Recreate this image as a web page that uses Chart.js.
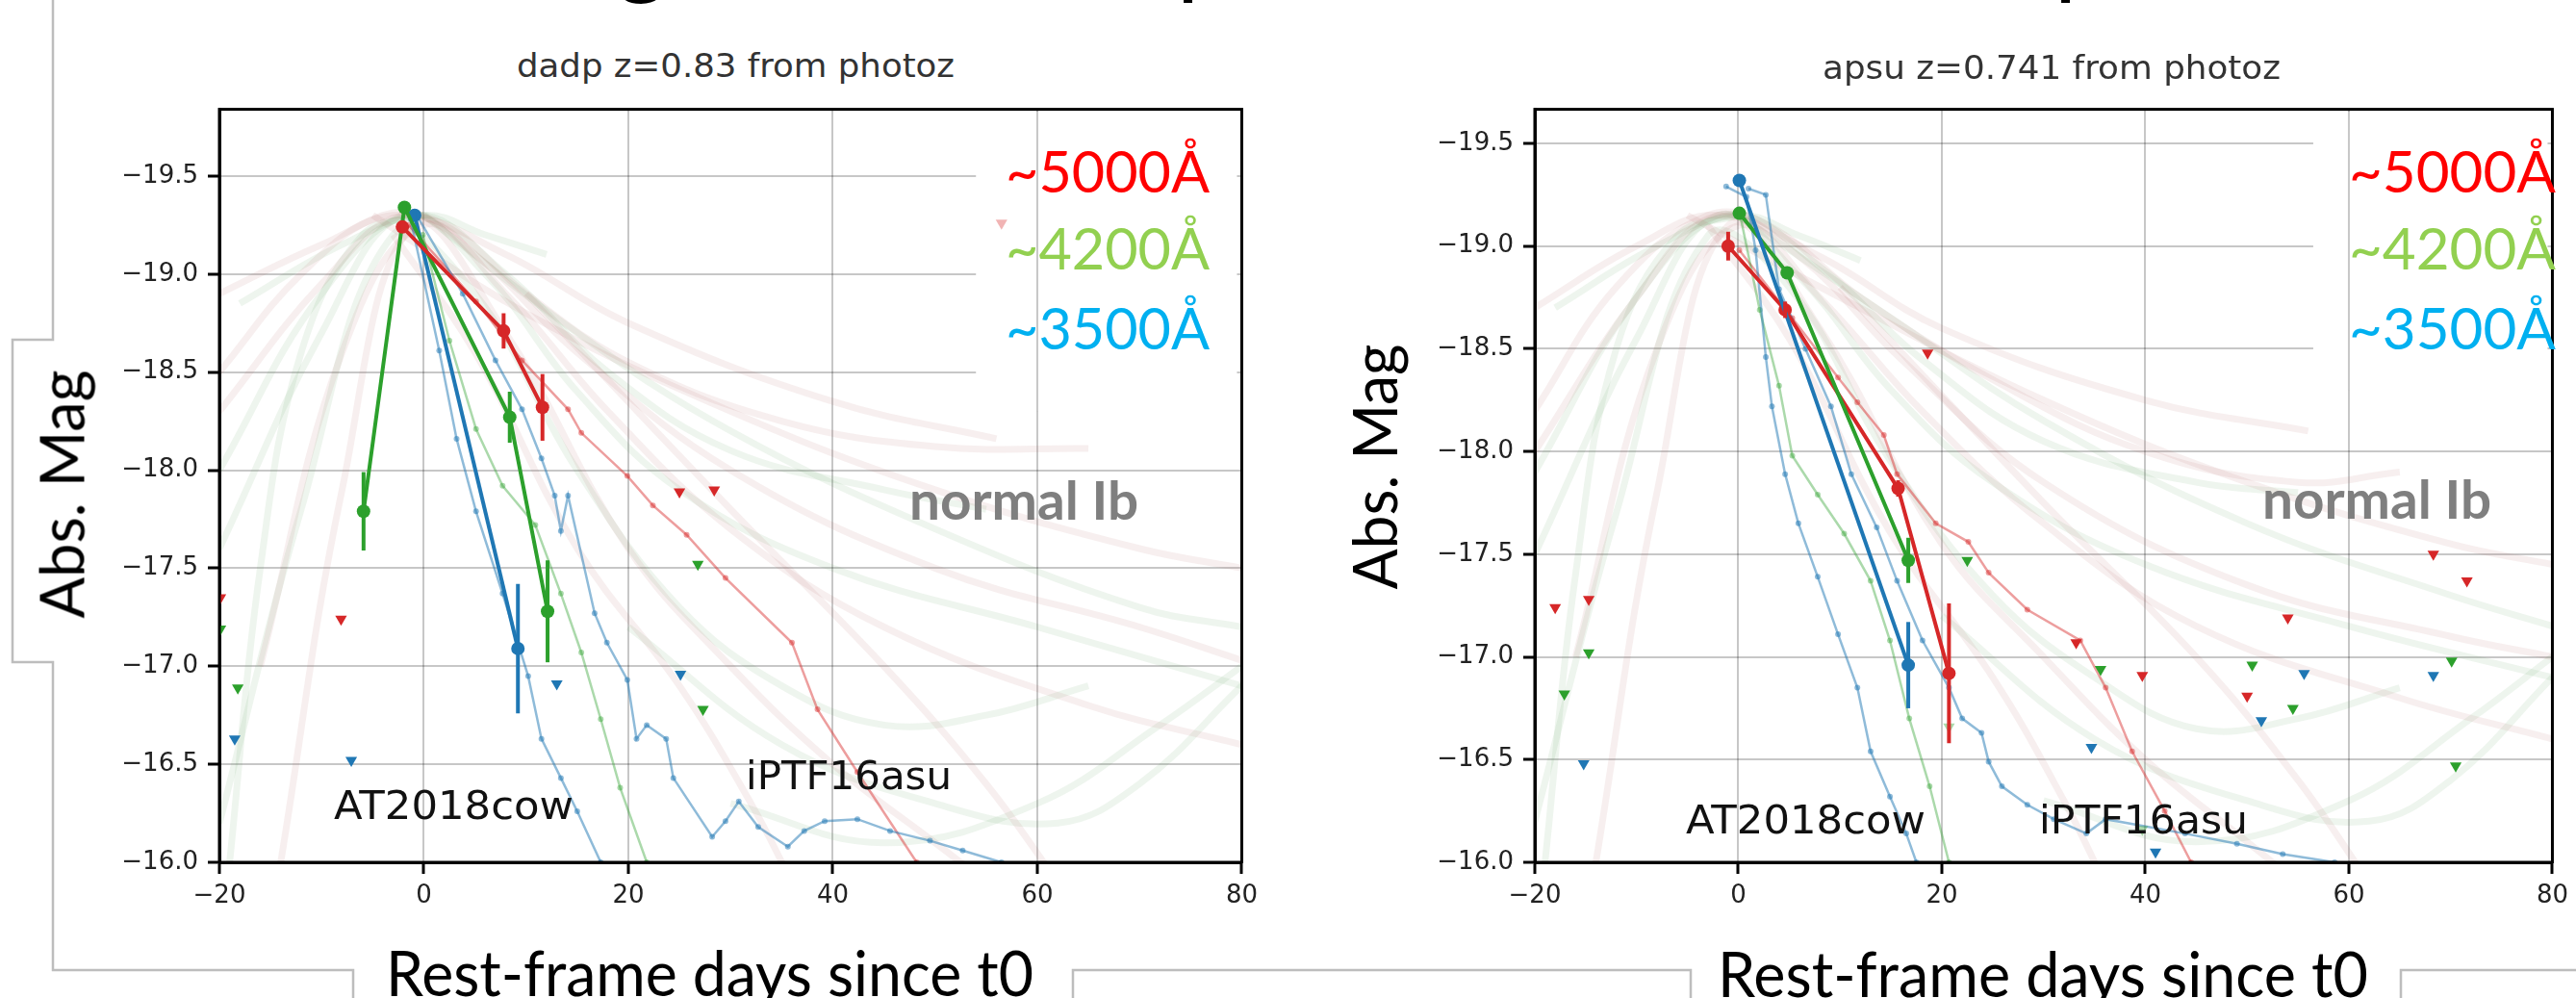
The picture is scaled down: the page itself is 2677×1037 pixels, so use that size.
<!DOCTYPE html>
<html>
<head>
<meta charset="utf-8">
<script src="https://cdn.jsdelivr.net/npm/chart.js@4.4.1/dist/chart.umd.min.js"></script>
<style>
html, body { margin: 0; padding: 0; background: #fff; width: 2677px; height: 1037px; overflow: hidden; position: relative; }
.panel { position: absolute; }
.lbl { position: absolute; white-space: nowrap; transform-origin: 0 0; }
svg.frame { position: absolute; left: 0; top: 0; }
</style>
</head>
<body>
<svg class="frame" width="2677" height="1037">
  <g fill="none" stroke="#bdbdbd" stroke-width="2.5">
    <polyline points="55,0 55,353 13,353 13,688 55,688 55,1008 367,1008 367,1037"/>
    <polyline points="1115,1037 1115,1008 1757,1008 1757,1037"/>
    <polyline points="2495,1037 2495,1008 2677,1008"/>
  </g>
</svg>
<div class="panel" style="left:100px;top:88px;width:1215px;height:870px"><canvas id="cL" width="1215" height="870"></canvas></div>
<div class="panel" style="left:1467px;top:88px;width:1210px;height:870px"><canvas id="cR" width="1210" height="870"></canvas></div>
<script>
/* === Ib light-curve comparison, two panels === */

// ── Axes ──
const xTicks = [-20, 0, 20, 40, 60, 80];
const yTicks = [-19.5, -19.0, -18.5, -18.0, -17.5, -17.0, -16.5, -16.0];

// ── dadp (left) ──
const dadpRedDays = [-2.1, 7.8, 11.6];
const dadpRedMags = [-19.24, -18.71, -18.32];
const dadpRedErr = [0.03, 0.09, 0.17];
const dadpGreenDays = [-5.9, -1.9, 8.4, 12.1];
const dadpGreenMags = [-17.79, -19.34, -18.27, -17.28];
const dadpGreenErr = [0.2, 0.03, 0.13, 0.26];
const dadpBlueDays = [-0.9, 9.2];
const dadpBlueMags = [-19.30, -17.09];
const dadpBlueErr = [0.03, 0.33];

const dadpRedLimDays = [-19.9, -8.1, 25.0, 28.4];
const dadpRedLimMags = [-17.35, -17.24, -17.89, -17.90];
const dadpFaintLimDays = [56.5];
const dadpFaintLimMags = [-19.26];
const dadpGreenLimDays = [-19.9, -18.2, 26.8, 27.3];
const dadpGreenLimMags = [-17.19, -16.89, -17.52, -16.78];
const dadpBlueLimDays = [-18.5, -7.1, 13.0, 25.1];
const dadpBlueLimMags = [-16.63, -16.52, -16.91, -16.96];

const dadpCowBlue = [[-1.3,-19.28],[1.5,-18.61],[3.2,-18.16],[5.1,-17.79],[7.7,-17.37],[10.2,-16.95],[11.5,-16.63],[13.4,-16.43],[15.0,-16.26],[17.3,-16.0],[18.5,-15.85]];
const dadpAsuBlue = [[-0.7,-19.3],[3.8,-18.9],[7.0,-18.56],[9.6,-18.31],[11.5,-18.06],[12.8,-17.87],[13.4,-17.69],[14.1,-17.87],[16.7,-17.27],[17.9,-17.12],[19.9,-16.93],[20.8,-16.63],[21.8,-16.7],[23.7,-16.63],[24.4,-16.43],[28.2,-16.13],[29.5,-16.21],[30.8,-16.31],[32.7,-16.18],[35.6,-16.08],[37.2,-16.16],[39.2,-16.21],[42.4,-16.22],[45.6,-16.16],[49.5,-16.11],[52.7,-16.06],[56.5,-16.0],[60,-15.95]];
const dadpCowGreen = [[-0.1,-19.2],[2.5,-18.66],[5.1,-18.21],[7.7,-17.92],[10.9,-17.72],[13.4,-17.37],[15.4,-17.07],[17.3,-16.73],[19.2,-16.38],[21.8,-16.0],[23,-15.8]];
const dadpAsuRed = [[-1.5,-19.25],[5.1,-18.86],[9.6,-18.56],[14.1,-18.31],[15.4,-18.19],[19.9,-17.97],[22.4,-17.82],[25.7,-17.67],[29.5,-17.45],[36.0,-17.12],[38.5,-16.78],[42.4,-16.46],[48.2,-16.0],[50,-15.85]];

// normal Ib templates (faint)
const dadpTplRed = [
  [[-20,-18.5],[-12,-19.0],[-4,-19.3],[2,-19.25],[10,-18.9],[20,-18.55],[35,-18.25],[50,-18.12],[65,-18.11]],
  [[-20,-18.3],[-10,-18.95],[-2,-19.3],[5,-19.1],[15,-18.6],[30,-18.0],[50,-17.5],[70,-17.2],[80,-17.03]],
  [[-16,-17.0],[-8,-18.6],[0,-19.25],[8,-18.9],[18,-18.3],[30,-17.7],[45,-17.2],[65,-16.8],[80,-16.6]],
  [[-14,-16.0],[-8,-17.9],[-1,-19.25],[8,-18.7],[20,-17.6],[30,-17.0],[40,-16.5],[50,-16.1],[55,-15.9]],
  [[-3,-19.2],[5,-18.6],[15,-17.6],[25,-16.9],[32,-16.3],[36,-15.9]],
  [[-5,-19.3],[10,-18.8],[30,-18.3],[50,-17.9],[70,-17.6],[80,-17.5]],
  [[10,-18.9],[30,-17.8],[45,-17.0],[55,-16.4],[62,-15.9]],
  [[-20,-18.9],[-10,-19.15],[-2,-19.3],[8,-19.1],[20,-18.75],[40,-18.35],[56,-18.16]],
];
const dadpTplGreen = [
  [[-18,-18.85],[-8,-19.15],[0,-19.3],[6,-19.2],[12,-19.1]],
  [[-20,-17.6],[-10,-18.7],[-2,-19.3],[6,-19.0],[15,-18.4],[25,-17.9],[40,-17.5],[60,-17.2],[80,-16.9]],
  [[-20,-16.2],[-12,-17.8],[-3,-19.2],[5,-18.9],[15,-18.0],[25,-17.3],[35,-16.9],[45,-16.7],[55,-16.75],[65,-16.9]],
  [[-20,-18.0],[-10,-18.9],[-1,-19.3],[8,-19.0],[18,-18.5],[30,-18.1],[45,-17.9],[55,-17.8]],
  [[20,-17.2],[35,-16.6],[50,-16.3],[62,-16.2],[70,-16.4],[80,-16.9]],
  [[0,-19.3],[15,-18.7],[30,-18.2],[50,-17.7],[70,-17.3],[80,-17.2]],
  [[-19,-16.0],[-16,-17.5],[-12,-18.6],[-6,-19.2],[0,-19.3]],
  [[30,-16.3],[45,-16.1],[60,-16.3],[72,-16.7],[80,-17.0]],
];

// ── apsu (right) ──
const apsuRedDays = [-1.0, 4.6, 15.7, 20.7];
const apsuRedMags = [-19.0, -18.69, -17.82, -16.92];
const apsuRedErr = [0.07, 0.04, 0.04, 0.34];
const apsuGreenDays = [0.1, 4.8, 16.7];
const apsuGreenMags = [-19.16, -18.87, -17.47];
const apsuGreenErr = [0.03, 0.03, 0.11];
const apsuBlueDays = [0.1, 16.7];
const apsuBlueMags = [-19.32, -16.96];
const apsuBlueErr = [0.03, 0.21];

const apsuRedLimDays = [-18.0, -14.7, 18.6, 33.2, 39.7, 50.0, 54.0, 68.3, 71.6];
const apsuRedLimMags = [-17.24, -17.28, -18.48, -17.07, -16.91, -16.81, -17.19, -17.50, -17.37];
const apsuGreenLimDays = [-14.7, -17.1, 22.5, 35.6, 50.5, 54.5, 70.1, 70.5];
const apsuGreenLimMags = [-17.02, -16.82, -17.47, -16.94, -16.96, -16.75, -16.98, -16.47];
const apsuFaintLimDays = [20.7, 39.7];
const apsuFaintLimMags = [-16.66, -16.16];
const apsuBlueLimDays = [-15.2, 34.7, 51.4, 55.6, 68.3, 41.0];
const apsuBlueLimMags = [-16.48, -16.56, -16.69, -16.92, -16.91, -16.05];

const apsuCowBlue = [[-1.2,-19.29],[0.8,-19.24],[1.7,-18.98],[2.7,-18.46],[3.3,-18.22],[4.6,-17.89],[5.9,-17.65],[7.8,-17.39],[9.8,-17.11],[11.7,-16.85],[13.0,-16.54],[14.9,-16.32],[16.5,-16.14],[17.5,-16.0],[18.5,-15.85]];
const apsuAsuBlue = [[1.0,-19.28],[2.7,-19.25],[4.0,-18.79],[6.6,-18.5],[9.1,-18.22],[11.1,-17.89],[13.6,-17.63],[15.6,-17.37],[18.1,-17.08],[20.7,-16.85],[22.0,-16.7],[23.9,-16.63],[24.6,-16.49],[25.9,-16.37],[28.4,-16.28],[31.0,-16.21],[34.2,-16.14],[36.1,-16.21],[43.9,-16.14],[49.0,-16.09],[53.5,-16.04],[58.6,-16.0],[62,-15.95]];
const apsuCowGreen = [[0.1,-19.17],[2.1,-18.69],[4.0,-18.32],[5.3,-17.98],[7.8,-17.79],[10.4,-17.6],[13.0,-17.37],[14.9,-17.08],[16.8,-16.70],[18.8,-16.37],[20.7,-16.0],[21.5,-15.85]];
const apsuAsuRed = [[0.1,-18.98],[5.3,-18.65],[9.8,-18.36],[11.7,-18.24],[14.3,-18.08],[15.6,-17.89],[19.4,-17.65],[22.6,-17.56],[24.6,-17.41],[28.4,-17.23],[33.6,-17.08],[36.1,-16.85],[38.7,-16.54],[41.9,-16.25],[44.5,-16.0],[46,-15.85]];

const apsuTplRed = [
  [[-20,-18.2],[-12,-18.8],[-3,-19.15],[3,-19.1],[12,-18.75],[25,-18.35],[40,-18.0],[55,-17.85],[65,-17.9]],
  [[-20,-18.0],[-10,-18.75],[-2,-19.15],[6,-18.95],[16,-18.45],[30,-17.85],[50,-17.35],[70,-17.1],[80,-17.0]],
  [[-16,-17.0],[-8,-18.5],[0,-19.1],[8,-18.75],[18,-18.2],[30,-17.65],[45,-17.15],[65,-16.8],[80,-16.6]],
  [[-14,-16.0],[-8,-17.8],[-1,-19.1],[8,-18.6],[20,-17.55],[30,-17.0],[40,-16.5],[50,-16.1],[55,-15.9]],
  [[-3,-19.1],[5,-18.55],[15,-17.6],[25,-16.9],[32,-16.3],[36,-15.9]],
  [[-5,-19.15],[10,-18.75],[30,-18.25],[50,-17.85],[70,-17.55],[80,-17.45]],
  [[10,-18.8],[30,-17.75],[45,-17.0],[55,-16.4],[62,-15.9]],
  [[-20,-18.7],[-10,-19.0],[-2,-19.15],[8,-18.95],[20,-18.6],[40,-18.25],[56,-18.1]],
];
const apsuTplGreen = [
  [[-18,-18.7],[-8,-19.0],[0,-19.15],[6,-19.05],[12,-18.93]],
  [[-20,-17.5],[-10,-18.55],[-2,-19.15],[6,-18.85],[15,-18.3],[25,-17.85],[40,-17.45],[60,-17.15],[80,-16.9]],
  [[-20,-16.2],[-12,-17.7],[-3,-19.05],[5,-18.8],[15,-17.95],[25,-17.3],[35,-16.9],[45,-16.65],[55,-16.7],[65,-16.85]],
  [[-20,-17.9],[-10,-18.75],[-1,-19.15],[8,-18.9],[18,-18.45],[30,-18.05],[45,-17.85],[55,-17.8]],
  [[20,-17.2],[35,-16.6],[50,-16.3],[62,-16.2],[70,-16.4],[80,-16.9]],
  [[0,-19.15],[15,-18.65],[30,-18.15],[50,-17.65],[70,-17.3],[80,-17.15]],
  [[-19,-16.0],[-16,-17.4],[-12,-18.5],[-6,-19.05],[0,-19.15]],
  [[30,-16.3],[45,-16.1],[60,-16.3],[72,-16.7],[80,-17.0]],
];

// ── Style ──
const RED = '#d62728', GREEN = '#2ca02c', BLUE = '#1f77b4';
const GRID = 'rgba(0,0,0,0.22)';
const TPL_RED = 'rgba(165,80,80,0.09)', TPL_GREEN = 'rgba(70,140,70,0.09)';

const zip = (xs, ys) => xs.map((x, i) => ({ x, y: ys[i] }));
const pairs = arr => arr.map(([x, y]) => ({ x, y }));
const fmtNum = (v, d) => (v < 0 ? '\u2212' : '') + Math.abs(v).toFixed(d);

function tplSet(list, color) {
  return list.map(t => ({ data: pairs(t), showLine: true, borderColor: color, borderWidth: 7,
    pointRadius: 0, tension: 0.4, order: 6, clip: 0 }));
}
function thin(arr, color) {
  return { data: pairs(arr), showLine: true, borderColor: color, borderWidth: 2.5, pointRadius: 3,
    pointBackgroundColor: color, pointBorderWidth: 0, tension: 0, order: 4, clip: 0 };
}
function limits(xs, ys, color) {
  return { data: zip(xs, ys), showLine: false, pointStyle: 'triangle', rotation: 180, pointRadius: 7,
    backgroundColor: color, borderColor: color, borderWidth: 0, order: 2, clip: 0 };
}
function main(xs, ys, errs, color) {
  return { data: zip(xs, ys), errs, showLine: true, borderColor: color, borderWidth: 4, pointRadius: 7,
    backgroundColor: color, pointBorderWidth: 0, tension: 0, order: 1, clip: 0 };
}

// white box behind the wavelength labels, error bars and the axes frame
const panelDeco = {
  id: 'panelDeco',
  beforeDatasetsDraw(chart, args, opts) {
    const { ctx, chartArea: a, scales: { x, y } } = chart;
    const bx = x.getPixelForValue(opts.boxFrom[0]);
    const by = y.getPixelForValue(opts.boxFrom[1]);
    ctx.save();
    ctx.fillStyle = '#fff';
    ctx.fillRect(bx, a.top + 2, a.right - 5 - bx, by - a.top - 2);
    const gx = x.getPixelForValue(60);
    ctx.strokeStyle = GRID; ctx.lineWidth = 2;
    ctx.beginPath(); ctx.moveTo(gx, a.top); ctx.lineTo(gx, by); ctx.stroke();
    ctx.restore();
  },
  afterDatasetsDraw(chart) {
    const { ctx, chartArea: a, scales: { x, y } } = chart;
    ctx.save();
    chart.data.datasets.forEach(ds => {
      if (!ds.errs) return;
      ctx.strokeStyle = ds.borderColor; ctx.lineWidth = 4;
      ds.data.forEach((p, i) => {
        const px = x.getPixelForValue(p.x);
        ctx.beginPath();
        ctx.moveTo(px, y.getPixelForValue(p.y - ds.errs[i]));
        ctx.lineTo(px, y.getPixelForValue(p.y + ds.errs[i]));
        ctx.stroke();
      });
    });
    ctx.strokeStyle = '#000'; ctx.lineWidth = 3;
    ctx.strokeRect(a.left, a.top, a.right - a.left, a.bottom - a.top);
    ctx.restore();
  }
};

function makePanel(id, yTop, padTop, padRight, boxFrom, datasets) {
  const tickFont = { family: 'DejaVu Sans', size: 26 };
  return new Chart(document.getElementById(id), {
    type: 'scatter',
    data: { datasets },
    options: {
      responsive: false, animation: false, events: [],
      layout: { padding: { top: padTop, right: padRight, left: 0, bottom: 0 } },
      plugins: { legend: { display: false }, tooltip: { enabled: false }, panelDeco: { boxFrom } },
      scales: {
        x: { type: 'linear', min: -20, max: 80,
          afterBuildTicks: s => { s.ticks = xTicks.map(v => ({ value: v })); },
          afterFit: s => { s.height = 62; },
          ticks: { color: '#222', font: tickFont, padding: 8, maxRotation: 0, callback: v => fmtNum(v, 0) },
          grid: { color: GRID, lineWidth: 2, tickColor: '#000', tickLength: 12, tickWidth: 3 },
          border: { color: '#000', width: 3 } },
        y: { type: 'linear', reverse: true, min: yTop, max: -16,
          afterBuildTicks: s => { s.ticks = yTicks.map(v => ({ value: v })); },
          afterFit: s => { s.width = 128; },
          ticks: { color: '#222', font: tickFont, padding: 10, callback: v => fmtNum(v, 1) },
          grid: { color: GRID, lineWidth: 2, tickColor: '#000', tickLength: 12, tickWidth: 3 },
          border: { color: '#000', width: 3 } }
      }
    },
    plugins: [panelDeco]
  });
}

makePanel('cL', -19.84, 10, 14, [54, -18.3], [
  ...tplSet(dadpTplRed, TPL_RED), ...tplSet(dadpTplGreen, TPL_GREEN),
  thin(dadpCowBlue, 'rgba(31,119,180,0.5)'), thin(dadpAsuBlue, 'rgba(31,119,180,0.5)'),
  thin(dadpCowGreen, 'rgba(44,160,44,0.4)'), thin(dadpAsuRed, 'rgba(214,39,40,0.45)'),
  limits(dadpRedLimDays, dadpRedLimMags, RED), limits(dadpFaintLimDays, dadpFaintLimMags, 'rgba(214,39,40,0.35)'),
  limits(dadpGreenLimDays, dadpGreenLimMags, GREEN), limits(dadpBlueLimDays, dadpBlueLimMags, BLUE),
  main(dadpRedDays, dadpRedMags, dadpRedErr, RED),
  main(dadpGreenDays, dadpGreenMags, dadpGreenErr, GREEN),
  main(dadpBlueDays, dadpBlueMags, dadpBlueErr, BLUE),
]);

makePanel('cR', -19.666, 12, 9, [56.5, -18.3], [
  ...tplSet(apsuTplRed, TPL_RED), ...tplSet(apsuTplGreen, TPL_GREEN),
  thin(apsuCowBlue, 'rgba(31,119,180,0.5)'), thin(apsuAsuBlue, 'rgba(31,119,180,0.5)'),
  thin(apsuCowGreen, 'rgba(44,160,44,0.4)'), thin(apsuAsuRed, 'rgba(214,39,40,0.45)'),
  limits(apsuRedLimDays, apsuRedLimMags, RED), limits(apsuGreenLimDays, apsuGreenLimMags, GREEN),
  limits(apsuFaintLimDays, apsuFaintLimMags, 'rgba(44,160,44,0.4)'), limits(apsuBlueLimDays, apsuBlueLimMags, BLUE),
  main(apsuBlueDays, apsuBlueMags, apsuBlueErr, BLUE),
  main(apsuGreenDays, apsuGreenMags, apsuGreenErr, GREEN),
  main(apsuRedDays, apsuRedMags, apsuRedErr, RED),
]);

// ── Text (x = left edge, b = baseline, w = fitted width) ──
const LEGEND_RED = '#ff0000', LEGEND_GREEN = '#92d050', LEGEND_BLUE = '#00b0f0';
const labels = [
  // descenders of the slide heading, which is cut off above the picture
  { t: 'g', x: 641, b: -14, size: 100, fam: 'Lato', col: '#000' },
  { t: 'p', x: 1223, b: -14, size: 100, fam: 'Lato', col: '#000' },
  { t: 'p', x: 2135, b: -14, size: 100, fam: 'Lato', col: '#000' },
  { t: 'dadp z=0.83 from photoz', x: 537, b: 80, size: 33, fam: 'DejaVu Sans', col: '#333', w: 455 },
  { t: 'apsu z=0.741 from photoz', x: 1894, b: 82, size: 33, fam: 'DejaVu Sans', col: '#333', w: 476 },
  { t: '~5000\u00c5', x: 1045, b: 200, size: 60, fam: 'Lato', col: LEGEND_RED, w: 212 },
  { t: '~4200\u00c5', x: 1045, b: 280, size: 60, fam: 'Lato', col: LEGEND_GREEN, w: 212 },
  { t: '~3500\u00c5', x: 1045, b: 363, size: 60, fam: 'Lato', col: LEGEND_BLUE, w: 212 },
  { t: '~5000\u00c5', x: 2441, b: 200, size: 60, fam: 'Lato', col: LEGEND_RED, w: 215 },
  { t: '~4200\u00c5', x: 2441, b: 280, size: 60, fam: 'Lato', col: LEGEND_GREEN, w: 215 },
  { t: '~3500\u00c5', x: 2441, b: 363, size: 60, fam: 'Lato', col: LEGEND_BLUE, w: 215 },
  { t: 'normal Ib', x: 945, b: 540, size: 56, fam: 'Lato', weight: 'bold', col: '#7f7f7f', w: 238 },
  { t: 'normal Ib', x: 2351, b: 539, size: 56, fam: 'Lato', weight: 'bold', col: '#7f7f7f', w: 238 },
  { t: 'AT2018cow', x: 347, b: 851, size: 41, fam: 'DejaVu Sans', col: '#111', w: 249 },
  { t: 'iPTF16asu', x: 775, b: 820, size: 41, fam: 'DejaVu Sans', col: '#111', w: 214 },
  { t: 'AT2018cow', x: 1752, b: 866, size: 41, fam: 'DejaVu Sans', col: '#111', w: 249 },
  { t: 'iPTF16asu', x: 2119, b: 866, size: 41, fam: 'DejaVu Sans', col: '#111', w: 217 },
  { t: 'Abs. Mag', x: 88, b: 642, size: 64, fam: 'Lato', col: '#000', w: 258, rot: true },
  { t: 'Abs. Mag', x: 1452, b: 612, size: 64, fam: 'Lato', col: '#000', w: 255, rot: true },
  { t: 'Rest-frame days since t0', x: 401, b: 1035, size: 66, fam: 'Lato', col: '#000', w: 673 },
  { t: 'Rest-frame days since t0', x: 1785, b: 1036, size: 66, fam: 'Lato', col: '#000', w: 676 },
];

const mctx = document.createElement('canvas').getContext('2d');
function placeLabel(s) {
  const font = `${s.weight || 'normal'} ${s.size}px "${s.fam}"`;
  mctx.font = font;
  const m = mctx.measureText(s.t);
  const A = m.fontBoundingBoxAscent, D = m.fontBoundingBoxDescent;
  const base = (s.size - (A + D)) / 2 + A;
  const sx = s.w ? s.w / m.width : 1;
  const el = document.createElement('div');
  el.className = 'lbl';
  el.textContent = s.t;
  el.style.font = font;
  el.style.lineHeight = s.size + 'px';
  el.style.color = s.col;
  el.style.left = s.x + 'px';
  el.style.top = (s.b - base) + 'px';
  if (s.rot) {
    el.style.transformOrigin = `0 ${base}px`;
    el.style.transform = `rotate(-90deg) scaleX(${sx})`;
  } else {
    el.style.transform = `scaleX(${sx})`;
  }
  document.body.appendChild(el);
}
labels.forEach(placeLabel);
</script>
</body>
</html>
